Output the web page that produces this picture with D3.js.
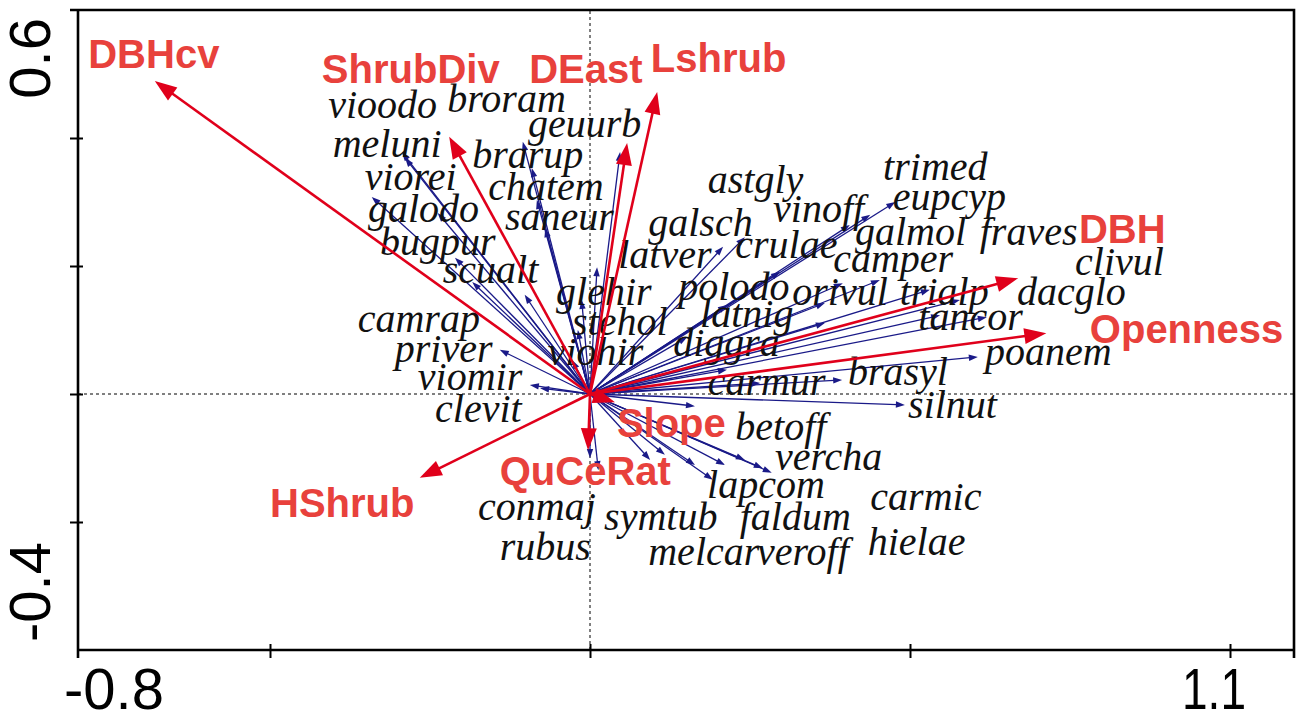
<!DOCTYPE html>
<html lang="en">
<head>
<meta charset="UTF-8">
<title>Ordination biplot</title>
<script src="https://d3js.org/d3.v7.min.js"></script>
<style>
  html, body { margin: 0; padding: 0; background: #fff; overflow: hidden; }
  svg { display: block; }
  .sp { font-family: "Liberation Serif", "DejaVu Serif", serif; font-style: italic; font-size: 40px; fill: #111; }
  .env { font-family: "Liberation Sans", Arial, sans-serif; font-weight: bold; font-size: 40px; fill: #e8413c; }
  .tick { font-family: "Liberation Sans", Arial, sans-serif; font-size: 58px; fill: #000; }
</style>
</head>
<body>
<svg id="chart" width="1299" height="719"></svg>
<script>
// environmental variables: arrow tips and label anchors (left, baseline) in axis units
const envNames = ["DBHcv", "ShrubDiv", "DEast", "Lshrub", "DBH", "Openness", "Slope", "QuCeRat", "HShrub"];
const envX = [-0.680, -0.220, 0.058, 0.105, 0.669, 0.713, 0.039, -0.003, -0.266];
const envY = [0.489, 0.402, 0.392, 0.472, 0.181, 0.095, -0.013, -0.088, -0.131];
const envLabX = [-0.784, -0.419, -0.095, 0.095, 0.764, 0.781, 0.042, -0.141, -0.500];
const envLabY = [0.509, 0.486, 0.486, 0.503, 0.236, 0.080, -0.067, -0.142, -0.192];

// species: arrow tips and label anchors in axis units
const spNames = ["vioodo", "broram", "meluni", "geuurb", "brarup", "viorei", "chatem", "galodo", "saneur", "bugpur",
  "scualt", "glehir", "latver", "stehol", "viohir", "camrap", "priver", "viomir", "clevit", "astgly",
  "galsch", "vinoff", "crulae", "polodo", "latnig", "diggra", "trimed", "eupcyp", "galmol", "fraves",
  "camper", "orivul", "trialp", "clivul", "dacglo", "tancor", "poanem", "brasyl", "carmur", "silnut",
  "betoff", "vercha", "lapcom", "carmic", "faldum", "symtub", "hielae", "melcar", "veroff", "conmaj", "rubus"];
const spX = [-0.294, -0.105, -0.289, 0.047, -0.091, -0.341, -0.083, -0.238, -0.070, -0.211,
  -0.184, -0.013, 0.011, -0.019, -0.028, -0.102, -0.141, -0.094, -0.078, 0.242,
  0.208, 0.406, 0.297, 0.214, 0.152, 0.214, 0.438, 0.477, 0.453, 0.531,
  0.395, 0.367, 0.367, 0.578, 0.547, 0.620, 0.606, 0.394, 0.266, 0.492,
  0.164, 0.284, 0.192, 0.270, 0.211, 0.164, 0.242, 0.094, 0.117, 0.000, 0.013];
const spY = [0.378, 0.394, 0.369, 0.378, 0.353, 0.308, 0.303, 0.283, 0.259, 0.213,
  0.175, 0.147, 0.198, 0.100, 0.053, 0.155, 0.069, 0.014, 0.009, 0.245,
  0.230, 0.264, 0.191, 0.139, 0.089, 0.038, 0.280, 0.300, 0.178, 0.163,
  0.173, 0.142, 0.111, 0.147, 0.123, 0.120, 0.058, 0.022, 0.017, -0.017,
  -0.019, -0.123, -0.134, -0.116, -0.111, -0.111, -0.103, -0.103, -0.095, -0.100, -0.119];
const spLabX = [-0.409, -0.223, -0.402, -0.097, -0.184, -0.352, -0.159, -0.347, -0.133, -0.328,
  -0.230, -0.053, 0.044, -0.028, -0.066, -0.363, -0.305, -0.269, -0.242, 0.184,
  0.091, 0.286, 0.227, 0.138, 0.172, 0.130, 0.458, 0.473, 0.414, 0.609,
  0.380, 0.316, 0.484, 0.758, 0.667, 0.513, 0.617, 0.403, 0.184, 0.497,
  0.227, 0.289, 0.183, 0.438, 0.234, 0.022, 0.434, 0.091, 0.261, -0.175, -0.141];
const spLabY = [0.431, 0.441, 0.370, 0.402, 0.353, 0.319, 0.303, 0.269, 0.256, 0.217,
  0.173, 0.139, 0.197, 0.092, 0.045, 0.097, 0.050, 0.006, -0.044, 0.314,
  0.247, 0.269, 0.213, 0.147, 0.105, 0.059, 0.334, 0.288, 0.233, 0.233,
  0.191, 0.139, 0.139, 0.186, 0.139, 0.100, 0.045, 0.014, -0.002, -0.038,
  -0.072, -0.119, -0.163, -0.181, -0.213, -0.213, -0.252, -0.267, -0.267, -0.197, -0.259];

// axes
const xDomain = [-0.8, 1.1];
const yDomain = [-0.4, 0.6];
const xTicks = [-0.5, 0, 0.5, 1.0];
const yTicks = [-0.2, 0, 0.2, 0.4];
const xTickLabels = ["-0.8", "1.1"];
const yTickLabels = ["-0.4", "0.6"];

const svg = d3.select("#chart");
const margin = {top: 10, right: 5, bottom: 69, left: 78};
const W = 1299 - margin.left - margin.right,
      H = 719 - margin.top - margin.bottom;

const x = d3.scaleLinear().domain(xDomain).range([margin.left, margin.left + W]);
const y = d3.scaleLinear().domain(yDomain).range([margin.top + H, margin.top]);

const navy = "#1a1a88", red = "#e0001b";

// zero lines
svg.append("line").attr("x1", x(xDomain[0])).attr("x2", x(xDomain[1]))
  .attr("y1", y(0)).attr("y2", y(0))
  .attr("stroke", "#000").attr("stroke-width", 1).attr("stroke-dasharray", "3,3");
svg.append("line").attr("x1", x(0)).attr("x2", x(0))
  .attr("y1", y(yDomain[0])).attr("y2", y(yDomain[1]))
  .attr("stroke", "#000").attr("stroke-width", 1).attr("stroke-dasharray", "3,3");

// arrow helper: shaft + filled head
function arrow(g, x1, y1, x2, y2, color, sw, hl, hw) {
  const dx = x2 - x1, dy = y2 - y1, len = Math.hypot(dx, dy);
  const ux = dx / len, uy = dy / len;
  const bx = x2 - ux * hl, by = y2 - uy * hl;
  g.append("line").attr("x1", x1).attr("y1", y1).attr("x2", bx + ux * 1).attr("y2", by + uy * 1)
    .attr("stroke", color).attr("stroke-width", sw);
  g.append("path")
    .attr("d", `M${x2},${y2}L${bx - uy * hw},${by + ux * hw}L${bx + uy * hw},${by - ux * hw}Z`)
    .attr("fill", color);
}

// species arrows
const gSp = svg.append("g");
spNames.forEach((n, i) => {
  arrow(gSp, x(0), y(0), x(spX[i]), y(spY[i]), navy, 1.3, 9, 3.2);
});

// species labels
svg.append("g").selectAll("text").data(spNames).join("text")
  .attr("class", "sp")
  .attr("x", (d, i) => x(spLabX[i]))
  .attr("y", (d, i) => y(spLabY[i]))
  .text(d => d);

// environmental arrows
const gEnv = svg.append("g");
envNames.forEach((n, i) => {
  arrow(gEnv, x(0), y(0), x(envX[i]), y(envY[i]), red, 2.6, 22, 8);
});

svg.append("g").selectAll("text").data(envNames).join("text")
  .attr("class", "env")
  .attr("x", (d, i) => x(envLabX[i]))
  .attr("y", (d, i) => y(envLabY[i]))
  .text(d => d);

// frame
const frame = svg.append("g").attr("stroke", "#000").attr("stroke-width", 2.6).attr("fill", "none");
frame.append("path").attr("d", `M${x(xDomain[0]) - 8},${y(yDomain[1])}H${x(xDomain[1])}V${y(yDomain[0]) + 8}`);

// axes with ticks (labels only at the ends)
svg.append("g").attr("transform", `translate(0,${y(yDomain[0])})`)
  .call(d3.axisBottom(x).tickValues(xTicks).tickSize(8).tickFormat(""))
  .call(g => g.select(".domain").attr("stroke-width", 2.6).attr("d", `M${x(xDomain[0])},0H${x(xDomain[1])}`))
  .call(g => g.selectAll(".tick line").attr("stroke-width", 2).attr("y1", -6));
svg.append("g").attr("transform", `translate(${x(xDomain[0])},0)`)
  .call(d3.axisLeft(y).tickValues(yTicks).tickSize(8).tickFormat(""))
  .call(g => g.select(".domain").attr("stroke-width", 2.6).attr("d", `M0,${y(yDomain[0]) + 8}V${y(yDomain[1])}`))
  .call(g => g.selectAll(".tick line").attr("stroke-width", 2).attr("x1", 5));

svg.append("text").attr("class", "tick").attr("x", x(xDomain[0]) - 14).attr("y", 709)
  .text(xTickLabels[0]);
svg.append("text").attr("class", "tick").attr("x", x(xDomain[1]) - 48).attr("y", 709)
  .attr("text-anchor", "end").attr("textLength", 64).attr("lengthAdjust", "spacingAndGlyphs")
  .text(xTickLabels[1]);
svg.append("text").attr("class", "tick")
  .attr("transform", `translate(50,${y(yDomain[0]) - 8}) rotate(-90)`)
  .text(yTickLabels[0]);
svg.append("text").attr("class", "tick")
  .attr("transform", `translate(50,${y(yDomain[1]) + 8}) rotate(-90)`)
  .attr("text-anchor", "end").text(yTickLabels[1]);
</script>
</body>
</html>
